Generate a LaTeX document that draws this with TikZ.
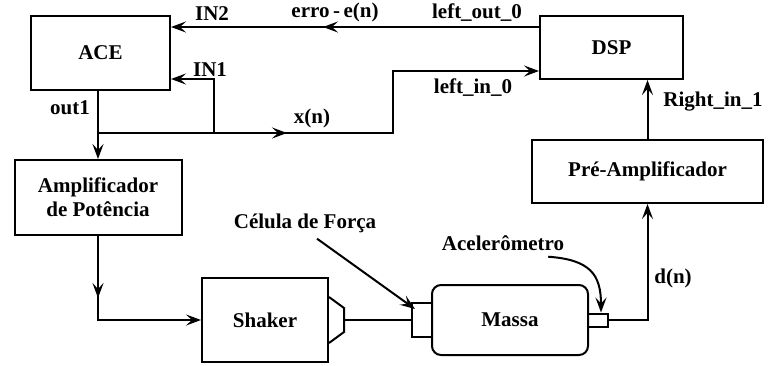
\documentclass[tikz,border=0pt]{standalone}
\usepackage{fontspec}
\setmainfont{Liberation Serif}
\usetikzlibrary{arrows.meta}

\newcommand{\figfont}{\fontsize{21}{24}\selectfont\bfseries}
\tikzset{
  blk/.style={draw, line width=2pt, inner sep=0pt, align=center, font=\figfont},
  lbl/.style={inner sep=0pt, font=\figfont},
  wire/.style={line width=2pt},
  sig/.style={wire, -{Stealth[length=15pt,width=11pt,inset=6pt]}},
}

\begin{document}
\begin{tikzpicture}[x=1pt, y=-1pt]
  \useasboundingbox (0,0) rectangle (768,365);
  % blocks
  \node[blk, minimum width=139pt, minimum height=74pt] (ace) at (100.5,53) {ACE};
  \node[blk, minimum width=143pt, minimum height=63pt] (dsp) at (611.5,47.5) {DSP};
  \node[blk, minimum width=167pt, minimum height=75pt] (amp) at (98,197.5) {Amplificador\\de Potência};
  \node[blk, minimum width=231pt, minimum height=63pt] (pre) at (647.5,171.5) {Pré-Amplificador};
  \node[blk, minimum width=126pt, minimum height=84pt] (shaker) at (265,320) {Shaker};
  \node[blk, minimum width=156pt, minimum height=70pt, rounded corners=9pt] (massa) at (510,320) {Massa};
  \node[blk, minimum width=20pt, minimum height=34pt] (fcell) at (422,320) {};
  \node[blk, minimum width=20pt, minimum height=13pt] (accel) at (598,320) {};
  % shaker head
  \draw[wire] (shaker.east) ++(0,-23) -- ++(15,11) -- ++(0,24) -- ++(-15,11);
  \coordinate (horn) at ([xshift=15pt]shaker.east);

  % ports, bends and mid arrows
  \coordinate (in2) at ([yshift=26pt]ace.east);
  \coordinate (in1) at ([yshift=-26pt]ace.east);
  \coordinate (j1) at (98,133);
  \coordinate (j2) at (214,133);
  \coordinate (j3) at (393,133);
  \coordinate (j4) at (393,71);
  \coordinate (j5) at (98,320);
  \coordinate (m1) at (323,27);
  \coordinate (m2) at (287,133);
  \coordinate (m3) at (98,298);

  % connectors
  \draw[sig] (dsp.west |- in2) -- (in2);
  \draw[sig] (dsp.west |- in2) -- (m1);
  \draw[sig] (ace.south -| amp.north) -- (amp.north);
  \draw[sig] (j1) -- (j2) -- (j2 |- in1) -- (in1);
  \draw[sig] (j2) -- (j3) -- (j4) -- (j4 -| dsp.west);
  \draw[sig] (j2) -- (m2);
  \draw[sig] (amp.south) -- (j5) -- (shaker.west);
  \draw[sig] (amp.south) -- (m3);
  \draw[wire] (horn) -- (fcell.west);
  \draw[sig] (accel.east) -- (accel.east -| pre.south) -- (pre.south);
  \draw[sig] (pre.north) -- (dsp.south -| pre.north);

  % labels
  \node[lbl] (in2l) at (212,14) {IN2};
  \node[lbl] (errl) at (335,12) {erro\,-\,e(n)};
  \node[lbl] (loutl) at (477,13) {left\_out\_0};
  \node[lbl] (in1l) at (210,70) {IN1};
  \node[lbl] (out1l) at (70,108) {out1};
  \node[lbl] (xnl) at (312,118) {x(n)};
  \node[lbl] (linl) at (473,88) {left\_in\_0};
  \node[lbl] (rinl) at (713,102) {Right\_in\_1};
  \node[lbl] (dnl) at (673,278) {d(n)};
  \node[lbl] (celula) at (305,223) {Célula de Força};
  \node[lbl] (acel) at (503,243) {Acelerômetro};

  % pointers
  \draw[sig] ([xshift=12pt,yshift=-6pt]celula.south) -- ([xshift=4pt,yshift=-7pt]fcell.north west);
  \draw[sig] ([xshift=-16pt,yshift=-6pt]acel.south east) .. controls +(42,3) and +(0,-38) .. ([xshift=3pt]accel.north);
\end{tikzpicture}
\end{document}
